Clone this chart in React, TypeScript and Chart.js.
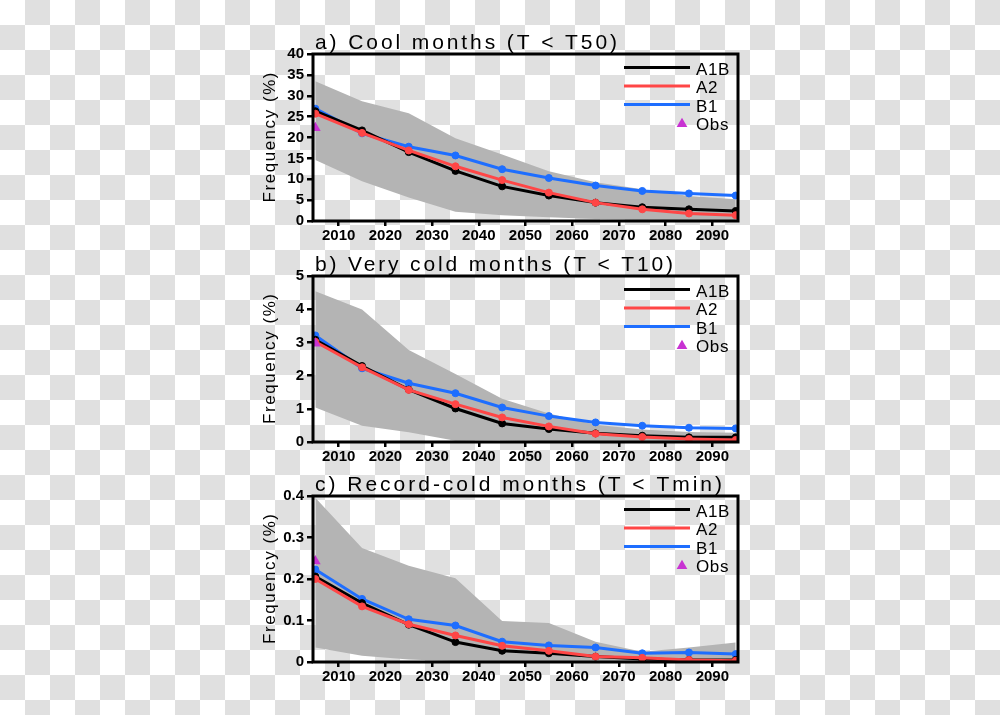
import React, { useEffect, useRef } from "react";
import { Chart, registerables } from "chart.js";
Chart.register(...registerables);

// ---------- data ----------
const years = [2005, 2015, 2025, 2035, 2045, 2055, 2065, 2075, 2085, 2095];
const xTickYears = [2010, 2020, 2030, 2040, 2050, 2060, 2070, 2080, 2090];
const obsYear = 2005;

const coolA1B = [26.3, 21.7, 16.5, 12.0, 8.3, 6.1, 4.4, 3.3, 2.8, 2.4];
const coolA2 = [25.7, 21.1, 16.9, 13.1, 9.8, 6.8, 4.4, 2.8, 1.8, 1.4];
const coolB1 = [26.9, 21.0, 17.8, 15.7, 12.4, 10.3, 8.5, 7.2, 6.6, 6.1];
const coolHigh = [33.5, 28.7, 25.8, 19.8, 15.9, 11.9, 9.3, 7.6, 6.0, 5.2];
const coolLow = [14.6, 9.5, 5.6, 2.2, 1.4, 0.9, 0.5, 0.3, 0.15, 0.1];
const coolObs = 22.3;

const vcoldA1B = [3.08, 2.29, 1.58, 1.01, 0.56, 0.39, 0.26, 0.19, 0.14, 0.14];
const vcoldA2 = [3.02, 2.25, 1.57, 1.14, 0.74, 0.47, 0.25, 0.15, 0.09, 0.06];
const vcoldB1 = [3.21, 2.22, 1.77, 1.47, 1.04, 0.78, 0.59, 0.49, 0.43, 0.41];
const vcoldHigh = [4.54, 3.99, 2.77, 2.05, 1.3, 0.86, 0.52, 0.38, 0.3, 0.28];
const vcoldLow = [1.04, 0.49, 0.29, 0.04, 0.06, 0.02, 0.01, 0.01, 0.01, 0.01];
const vcoldObs = 2.97;

const recA1B = [0.206, 0.142, 0.09, 0.048, 0.027, 0.021, 0.013, 0.007, 0.005, 0.005];
const recA2 = [0.2, 0.134, 0.091, 0.064, 0.039, 0.027, 0.013, 0.01, 0.005, 0.003];
const recB1 = [0.223, 0.152, 0.103, 0.088, 0.049, 0.04, 0.035, 0.021, 0.023, 0.019];
const recHigh = [0.396, 0.275, 0.232, 0.202, 0.099, 0.094, 0.049, 0.025, 0.035, 0.047];
const recLow = [0.035, 0.015, 0.006, 0.002, 0.001, 0.001, 0.001, 0.001, 0.001, 0.001];
const recObs = 0.243;

const panelTitles = [
  "a) Cool months (T < T50)",
  "b) Very cold months (T < T10)",
  "c) Record-cold months (T < Tmin)",
];
const yAxisTitle = "Frequency (%)";
const legendLabels = ["A1B", "A2", "B1", "Obs"];
const yMaxes = [40, 5, 0.4];
const ySteps = [5, 1, 0.1];

// ---------- styling / layout ----------
const COL_A1B = "#000000";
const COL_A2 = "#ff4646";
const COL_B1 = "#1e6eff";
const COL_OBS = "#c832d2";
const COL_BAND = "#b4b4b4";
const FONT = "'Liberation Sans', Arial, Helvetica, sans-serif";

const W = 1000;
const H = 715;
const PLOT_LEFT = 313;
const PLOT_RIGHT = 738;
const panelTops = [54, 276, 496];
const panelBottoms = [221, 442, 662];
const titleWidths = [302, 358, 407];
const X_AXIS_H = 30;

const pts = (arr: number[]) => arr.map((v, i) => ({ x: years[i], y: v }));

function spacedText(ctx: any, text: string, x: number, y: number, target: number) {
  const natural = ctx.measureText(text).width;
  const n = text.length;
  const ls = n > 1 ? (target - natural) / (n - 1) : 0;
  if ("letterSpacing" in ctx) {
    ctx.letterSpacing = ls + "px";
    ctx.fillText(text, x, y);
    ctx.letterSpacing = "0px";
  } else {
    ctx.fillText(text, x, y);
  }
}

const decorPlugin = {
  id: "decor",
  afterDatasetsDraw(chart: any) {
    const { ctx, chartArea: ca } = chart;
    ctx.save();
    ctx.strokeStyle = "#000";
    ctx.lineWidth = 3;
    ctx.strokeRect(ca.left, ca.top, ca.right - ca.left, ca.bottom - ca.top);
    ctx.restore();
  },
  afterDraw(chart: any, _args: any, opts: any) {
    const { ctx, chartArea: ca } = chart;
    ctx.save();
    ctx.fillStyle = "#000";
    // panel title
    ctx.font = `21px ${FONT}`;
    ctx.textAlign = "left";
    ctx.textBaseline = "alphabetic";
    spacedText(ctx, opts.title, ca.left + 2, ca.top - 5, opts.titleWidth);
    // y-axis title
    ctx.save();
    ctx.font = `17px ${FONT}`;
    const cy = (ca.top + ca.bottom) / 2;
    ctx.translate(275, cy);
    ctx.rotate(-Math.PI / 2);
    spacedText(ctx, yAxisTitle, -65, 0, 130);
    ctx.restore();
    // legend
    const colors = [COL_A1B, COL_A2, COL_B1];
    ctx.font = `17px ${FONT}`;
    for (let i = 0; i < legendLabels.length; i++) {
      const y = ca.top + 13.5 + i * 18.5;
      if (i < 3) {
        ctx.strokeStyle = colors[i];
        ctx.lineWidth = 3;
        ctx.beginPath();
        ctx.moveTo(ca.right - 114, y);
        ctx.lineTo(ca.right - 48, y);
        ctx.stroke();
      } else {
        const cx = ca.right - 56;
        const r = 6.2;
        ctx.fillStyle = COL_OBS;
        ctx.beginPath();
        ctx.moveTo(cx, y - r + 1);
        ctx.lineTo(cx + r * 0.866, y + r / 2 + 1);
        ctx.lineTo(cx - r * 0.866, y + r / 2 + 1);
        ctx.closePath();
        ctx.fill();
      }
      ctx.fillStyle = "#000";
      spacedText(ctx, legendLabels[i], ca.right - 42, y + 7.3, ctx.measureText(legendLabels[i]).width + (legendLabels[i].length - 1) * 0.6);
    }
    ctx.restore();
  },
};

const seriesSets = [
  { a1b: coolA1B, a2: coolA2, b1: coolB1, high: coolHigh, low: coolLow, obs: coolObs },
  { a1b: vcoldA1B, a2: vcoldA2, b1: vcoldB1, high: vcoldHigh, low: vcoldLow, obs: vcoldObs },
  { a1b: recA1B, a2: recA2, b1: recB1, high: recHigh, low: recLow, obs: recObs },
];

function lineDs(label: string, data: number[], color: string) {
  return {
    label,
    data: pts(data),
    borderColor: color,
    backgroundColor: color,
    borderWidth: 3,
    pointRadius: 3.5,
    pointBorderWidth: 1,
    pointBorderColor: color,
    pointBackgroundColor: color,
    tension: 0,
    fill: false,
    clip: 0,
  };
}

function Panel({ idx }: { idx: number }) {
  const ref = useRef<HTMLCanvasElement | null>(null);
  useEffect(() => {
    const s = seriesSets[idx];
    const top = panelTops[idx];
    const bottom = panelBottoms[idx];
    // Chart.js paints the first dataset on top, so the list runs top -> bottom
    const chart = new Chart(ref.current as HTMLCanvasElement, {
      type: "line",
      data: {
        datasets: [
          {
            label: "Obs",
            data: [{ x: obsYear, y: s.obs }],
            showLine: false,
            pointStyle: "triangle",
            pointRadius: 6.2,
            pointBorderWidth: 0,
            pointBackgroundColor: COL_OBS,
            pointBorderColor: COL_OBS,
            backgroundColor: COL_OBS,
            borderColor: COL_OBS,
            clip: 0,
          },
          lineDs("A2", s.a2, COL_A2),
          lineDs("A1B", s.a1b, COL_A1B),
          lineDs("B1", s.b1, COL_B1),
          {
            label: "high",
            data: pts(s.high),
            borderColor: "rgba(0,0,0,0)",
            backgroundColor: COL_BAND,
            borderWidth: 0,
            pointRadius: 0,
            fill: "+1",
            clip: 0,
          },
          {
            label: "low",
            data: pts(s.low),
            borderColor: "rgba(0,0,0,0)",
            borderWidth: 0,
            pointRadius: 0,
            fill: false,
            clip: 0,
          },
        ] as any,
      },
      options: {
        responsive: false,
        maintainAspectRatio: false,
        animation: false,
        devicePixelRatio: 1,
        layout: {
          padding: {
            left: 0,
            top: top,
            right: W - PLOT_RIGHT,
            bottom: H - bottom - X_AXIS_H,
          },
        },
        plugins: {
          legend: { display: false },
          tooltip: { enabled: false },
          title: { display: false },
          decor: { title: panelTitles[idx], titleWidth: titleWidths[idx] },
        } as any,
        scales: {
          x: {
            type: "linear",
            min: 2004.5,
            max: 2095.5,
            afterBuildTicks: (scale: any) => {
              scale.ticks = xTickYears.map((v) => ({ value: v }));
            },
            afterFit: (scale: any) => {
              scale.height = X_AXIS_H;
            },
            grid: {
              drawOnChartArea: false,
              drawTicks: true,
              tickLength: 5,
              color: "#000",
              lineWidth: 2.5,
            },
            border: { display: false },
            ticks: {
              color: "#000",
              padding: 1,
              maxRotation: 0,
              autoSkip: false,
              font: { family: FONT, size: 15, weight: "bold" },
              callback: (v: any) => String(v),
            },
          },
          y: {
            type: "linear",
            min: 0,
            max: yMaxes[idx],
            afterFit: (scale: any) => {
              scale.width = PLOT_LEFT;
            },
            grid: {
              drawOnChartArea: false,
              drawTicks: true,
              tickLength: 6,
              color: "#000",
              lineWidth: 2.5,
            },
            border: { display: false },
            ticks: {
              stepSize: ySteps[idx],
              autoSkip: false,
              color: "#000",
              padding: 3,
              font: { family: FONT, size: 15, weight: "bold" },
              callback: (v: any) => String(Math.round(v * 1000) / 1000),
            },
          },
        },
      } as any,
      plugins: [decorPlugin as any],
    });
    return () => chart.destroy();
  }, [idx]);
  return (
    <canvas
      ref={ref}
      width={W}
      height={H}
      style={{ position: "absolute", left: 0, top: 0, width: W, height: H }}
    />
  );
}

export default function App() {
  return (
    <div
      style={{
        position: "absolute",
        left: 0,
        top: 0,
        width: W,
        height: H,
        overflow: "hidden",
        background:
          "repeating-conic-gradient(#e0e0e0 0% 25%, #ffffff 0% 50%) 0 0 / 50px 50px",
      }}
    >
      <Panel idx={0} />
      <Panel idx={1} />
      <Panel idx={2} />
    </div>
  );
}
